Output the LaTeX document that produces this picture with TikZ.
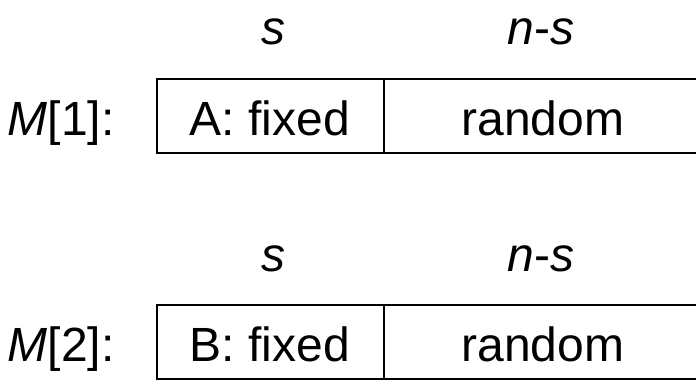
\documentclass[tikz,border=0pt]{standalone}
\usepackage{fontspec}
\setmainfont{Liberation Sans}

\begin{document}
\begin{tikzpicture}[x=0.5pt, y=0.5pt,
		txt/.style={font=\fontsize{24}{29}\selectfont, inner sep=0pt, anchor=base},
		box/.style={line width=1pt}]
		\useasboundingbox (0,0) rectangle (696,381);
		% first row
		\coordinate (TL1) at (157,302);
		\coordinate (BL1) at (157,228);
		\coordinate (TR1) at (696,302);
		\coordinate (BR1) at (696,228);
		\coordinate (TM1) at (384,302);
		\coordinate (BM1) at (384,228);
		\draw [box] (TR1)--(TL1)--(BL1)--(BR1);
		\draw [box] (TM1)--(BM1);
		\node[txt] (s1) at (273,336) {\textit{s}};
		\node[txt] (ns1) at (541,336) {\textit{n}-\textit{s}};
		\node[txt, anchor=base east] (m1) at (115,246) {\textit{M}[1]:};
		\node[txt] (fix1) at (270,246) {A: fixed};
		\node[txt] (rnd1) at (543,246) {random};
		% second row
		\coordinate (TL2) at (157,76);
		\coordinate (BL2) at (157,2);
		\coordinate (TR2) at (696,76);
		\coordinate (BR2) at (696,2);
		\coordinate (TM2) at (384,76);
		\coordinate (BM2) at (384,2);
		\draw [box] (TR2)--(TL2)--(BL2)--(BR2);
		\draw [box] (TM2)--(BM2);
		\node[txt] (s2) at (273,110) {\textit{s}};
		\node[txt] (ns2) at (541,110) {\textit{n}-\textit{s}};
		\node[txt, anchor=base east] (m2) at (115,20) {\textit{M}[2]:};
		\node[txt] (fix2) at (270,20) {B: fixed};
		\node[txt] (rnd2) at (543,20) {random};
	\end{tikzpicture}
\end{document}
